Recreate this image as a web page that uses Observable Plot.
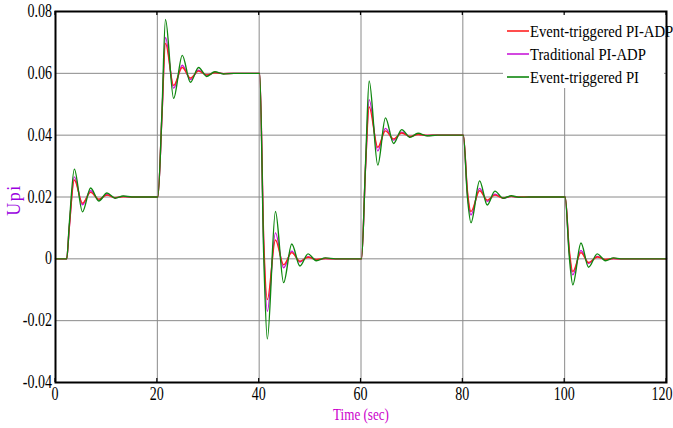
<!DOCTYPE html>
<html>
<head>
<meta charset="utf-8">
<script src="https://cdn.jsdelivr.net/npm/d3@7"></script>
<script src="https://cdn.jsdelivr.net/npm/@observablehq/plot@0.6"></script>
<style>
  html, body { margin: 0; padding: 0; background: #fff; }
  #chart { width: 673px; height: 428px; overflow: hidden; }
</style>
</head>
<body>
<div id="chart"></div>
<script>
// --- data ---
const seriesNames = ["Event-triggered PI-ADP", "Traditional PI-ADP", "Event-triggered PI"];
const seriesColors = ["#ff2020", "#c81ad8", "#0f870f"];

const time = [
  0, 2.2, 2.7, 3.7, 5.3, 6.9, 8.5, 10.1, 11.7, 13.3, 15, 20,
  20.1, 20.9, 21.6, 23.2, 24.9, 26.5, 28.1, 29.7, 31.3, 33, 35, 40,
  40.1, 40.9, 41.6, 43.2, 44.8, 46.4, 48.0, 49.6, 51.2, 53, 55, 60,
  60.1, 60.9, 61.6, 63.3, 64.8, 66.4, 68.0, 69.6, 71.2, 73, 75, 80,
  80.1, 80.9, 81.6, 83.3, 84.8, 86.3, 87.9, 89.5, 91, 93, 95, 100,
  100.1, 100.9, 101.6, 103.2, 104.7, 106.4, 108, 109.6, 111, 113, 115, 120
];

const eventPIADP = [
  0, 0, 0.010, 0.0255, 0.0180, 0.0215, 0.0193, 0.0206, 0.0198, 0.0201, 0.02, 0.02,
  0.02, 0.046, 0.0697, 0.0561, 0.0619, 0.0585, 0.0607, 0.0595, 0.0602, 0.0599, 0.06, 0.06,
  0.06, 0.006, -0.0132, 0.0061, -0.0019, 0.0020, -0.0008, 0.0005, -0.0002, 0.0001, 0, 0,
  0, 0.030, 0.0491, 0.0361, 0.0414, 0.0388, 0.0407, 0.0396, 0.0402, 0.0399, 0.04, 0.04,
  0.04, 0.022, 0.0153, 0.0220, 0.0190, 0.0206, 0.0197, 0.0202, 0.0200, 0.02, 0.02, 0.02,
  0.02, 0.003, -0.0041, 0.0020, -0.0012, 0.0006, -0.0002, 0.0001, 0, 0, 0, 0
];

const tradPIADP = [
  0, 0, 0.010, 0.0265, 0.0175, 0.0220, 0.0190, 0.0208, 0.0197, 0.0202, 0.02, 0.02,
  0.02, 0.046, 0.0716, 0.0552, 0.0626, 0.0580, 0.0610, 0.0594, 0.0603, 0.0599, 0.06, 0.06,
  0.06, 0.004, -0.0170, 0.0084, -0.0029, 0.0025, -0.0010, 0.0007, -0.0003, 0.0001, 0, 0,
  0, 0.030, 0.0515, 0.0349, 0.0422, 0.0384, 0.0410, 0.0395, 0.0403, 0.0399, 0.04, 0.04,
  0.04, 0.021, 0.0142, 0.0228, 0.0186, 0.0209, 0.0196, 0.0202, 0.0199, 0.02, 0.02, 0.02,
  0.02, 0.002, -0.0052, 0.0027, -0.0015, 0.0008, -0.0003, 0.0001, 0, 0, 0, 0
];

const eventPI = [
  0, 0, 0.011, 0.0290, 0.0152, 0.0229, 0.0187, 0.0213, 0.0196, 0.0203, 0.02, 0.02,
  0.02, 0.047, 0.0774, 0.0519, 0.0658, 0.0571, 0.0619, 0.0590, 0.0605, 0.0598, 0.06, 0.06,
  0.06, 0.001, -0.0259, 0.0153, -0.0077, 0.0048, -0.0023, 0.0016, -0.0006, 0.0003, 0, 0,
  0, 0.031, 0.0575, 0.0303, 0.0456, 0.0373, 0.0418, 0.0393, 0.0406, 0.0398, 0.04, 0.04,
  0.04, 0.020, 0.0117, 0.0252, 0.0174, 0.0219, 0.0196, 0.0204, 0.0199, 0.02, 0.02, 0.02,
  0.02, 0.001, -0.0084, 0.0051, -0.0027, 0.0016, -0.0006, 0.0003, 0, 0, 0, 0
];

const xTicks = [0, 20, 40, 60, 80, 100, 120];
const xTickLabels = ["0", "20", "40", "60", "80", "100", "120"];
const yTicks = [-0.04, -0.02, 0, 0.02, 0.04, 0.06, 0.08];
const yTickLabels = ["-0.04", "-0.02", "0", "0.02", "0.04", "0.06", "0.08"];
const xLabel = "Time (sec)";
const yLabel = "Upi";

// --- build table for Plot ---
const seriesValues = [eventPIADP, tradPIADP, eventPI];
const drawOrder = [1, 0, 2]; // magenta, red, green on top
const rows = [];
for (const s of drawOrder) {
  time.forEach((t, i) => rows.push({t, v: seriesValues[s][i], name: seriesNames[s]}));
}

const FONT = "'Liberation Serif', 'Times New Roman', serif";
const W = 673;
const chart = Plot.plot({
  width: W,
  height: 428,
  marginLeft: 55,
  marginRight: 7,
  marginTop: 11,
  marginBottom: 46,
  x: { domain: [0, 120], ticks: xTicks, axis: null },
  y: { domain: [-0.04, 0.08], ticks: yTicks, axis: null },
  color: { domain: seriesNames, range: seriesColors },
  marks: [
    Plot.gridX(xTicks, { stroke: "#8a8a8a", strokeOpacity: 1, strokeWidth: 1 }),
    Plot.gridY(yTicks, { stroke: "#8a8a8a", strokeOpacity: 1, strokeWidth: 1 }),
    Plot.line(rows, { x: "t", y: "v", z: "name", stroke: "name", strokeWidth: 1.4, curve: "monotone-x" }),
    Plot.frame({ stroke: "#000", strokeWidth: 2 })
  ]
});
document.getElementById("chart").appendChild(chart);

const sx = chart.scale("x"), sy = chart.scale("y");
const svg = d3.select(chart);

// tick labels placed with Plot's own scales; narrow serif look via horizontal scaling
const SX = 0.78;
const tg = svg.append("g").attr("font-family", FONT).attr("font-size", 18).attr("fill", "#000");
xTicks.forEach((v, i) => {
  const t = tg.append("text").attr("text-anchor", "middle").attr("dy", "0.34em").text(xTickLabels[i]);
  const half = t.node().getComputedTextLength() * SX / 2;
  const cx = Math.min(sx.apply(v), W - half - 0.5);
  t.attr("transform", `translate(${cx},394) scale(${SX},1)`);
});
yTicks.forEach((v, i) => {
  tg.append("text").attr("transform", `translate(52,${sy.apply(v)}) scale(${SX},1)`)
    .attr("text-anchor", "end").attr("dy", "0.34em").text(yTickLabels[i]);
});

// legend
const lg = svg.append("g").attr("font-family", FONT);
lg.append("rect").attr("x", 503).attr("y", 13).attr("width", 161).attr("height", 75).attr("fill", "#fff");
seriesNames.forEach((n, i) => {
  const cy = 31 + i * 23;
  lg.append("line").attr("x1", 507).attr("x2", 529).attr("y1", cy).attr("y2", cy)
    .attr("stroke", seriesColors[i]).attr("stroke-width", 1.6);
  lg.append("text").attr("transform", `translate(530,${cy}) scale(0.84,1)`)
    .attr("text-anchor", "start").attr("dy", "0.34em").attr("font-size", 17.5).attr("fill", "#000").text(n);
});

// small inward tick marks on top and bottom borders, at Plot's x-scale positions
const [yb, yt] = [sy.apply(-0.04), sy.apply(0.08)];
xTicks.forEach(v => {
  const px = sx.apply(v);
  svg.append("line").attr("x1", px).attr("x2", px).attr("y1", yb).attr("y2", yb - 4).attr("stroke", "#000").attr("stroke-width", 1.2);
  svg.append("line").attr("x1", px).attr("x2", px).attr("y1", yt).attr("y2", yt + 4).attr("stroke", "#000").attr("stroke-width", 1.2);
});

// axis titles
svg.append("text").attr("transform", "translate(361,414) scale(0.75,1)")
  .attr("text-anchor", "middle").attr("dy", "0.34em").attr("font-family", FONT)
  .attr("font-size", 17.5).attr("fill", "#cc00cc").text(xLabel);
svg.append("text").attr("transform", "translate(14,200) rotate(-90)")
  .attr("text-anchor", "middle").attr("dy", "0.34em").attr("font-family", FONT)
  .attr("font-size", 18).attr("letter-spacing", 1.5).attr("fill", "#9a00e0").text(yLabel);
</script>
</body>
</html>
